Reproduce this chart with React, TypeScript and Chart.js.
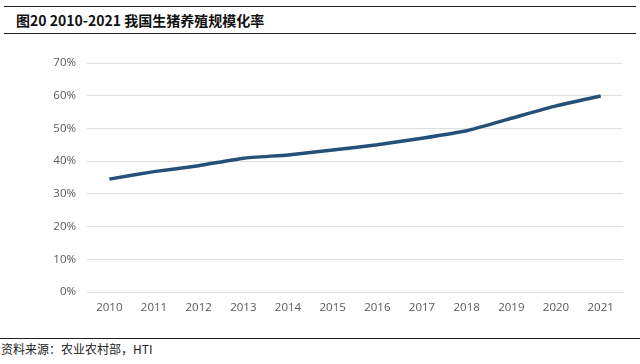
import React, { useEffect, useRef } from "react";
import { Chart, registerables } from "chart.js";

Chart.register(...registerables);

const years = ["2010", "2011", "2012", "2013", "2014", "2015", "2016", "2017", "2018", "2019", "2020", "2021"];
const scaleRate = [34.5, 36.8, 38.6, 40.9, 41.9, 43.4, 45.0, 47.0, 49.3, 53.1, 56.9, 59.9];
const titleText = "图20 2010-2021 我国生猪养殖规模化率";
const sourceText = "资料来源：农业农村部，HTI";

export default function App() {
  const ref = useRef<HTMLCanvasElement>(null);
  useEffect(() => {
    document.body.style.margin = "0";
    const chart = new Chart(ref.current!, {
      type: "line",
      data: {
        labels: years,
        datasets: [
          {
            data: scaleRate,
            borderColor: "#245079",
            borderWidth: 3.5,
            pointRadius: 0,
            tension: 0.15,
            fill: false,
          },
        ],
      },
      options: {
        animation: false,
        responsive: false,
        maintainAspectRatio: false,
        layout: { padding: { top: 23, right: 17, left: 0, bottom: 0 } },
        plugins: { legend: { display: false }, tooltip: { enabled: false } },
        scales: {
          x: {
            offset: true,
            grid: { display: false, drawTicks: false },
            border: { display: true, color: "#dedede", width: 1 },
            ticks: { color: "#595959", font: { family: "Open Sans", size: 11.5 }, padding: 9, maxRotation: 0 },
            afterFit: (s: any) => { s.height = 38; },
          },
          y: {
            min: 0,
            max: 70,
            grid: { color: "#dedede", lineWidth: 1, drawTicks: false },
            border: { display: false },
            ticks: {
              stepSize: 10,
              color: "#595959",
              font: { family: "Open Sans", size: 11.5 },
              padding: 11,
              callback: (v: any) => v + "%",
            },
            afterFit: (s: any) => { s.width = 87; },
          },
        },
      },
    });
    return () => chart.destroy();
  }, []);

  return (
    <div style={{ position: "fixed", left: 0, top: 0, width: 640, height: 364, background: "#fff", overflow: "hidden" }}>
      <div style={{ position: "absolute", left: 4, top: 6, width: 632, height: 0, borderTop: "1.5px solid #222" }} />
      <div
        style={{
          position: "absolute",
          left: 16,
          top: 9,
          fontFamily: "'Noto Sans CJK SC', sans-serif",
          fontWeight: 700,
          fontSize: 14,
          lineHeight: "22px",
          color: "#111",
          whiteSpace: "nowrap",
        }}
      >
        {titleText}
      </div>
      <div style={{ position: "absolute", left: 4, top: 33, width: 632, height: 0, borderTop: "1.5px solid #222" }} />
      <div style={{ position: "absolute", left: 0, top: 40, width: 640, height: 290 }}>
        <canvas ref={ref} width={640} height={290} style={{ width: 640, height: 290 }} />
      </div>
      <div style={{ position: "absolute", left: 0, top: 338, width: 640, height: 0, borderTop: "1.5px solid #222" }} />
      <div
        style={{
          position: "absolute",
          left: 1,
          top: 341,
          fontFamily: "'Noto Sans CJK SC', sans-serif",
          fontSize: 12,
          lineHeight: "16px",
          color: "#222",
          whiteSpace: "nowrap",
        }}
      >
        {sourceText}
      </div>
    </div>
  );
}
